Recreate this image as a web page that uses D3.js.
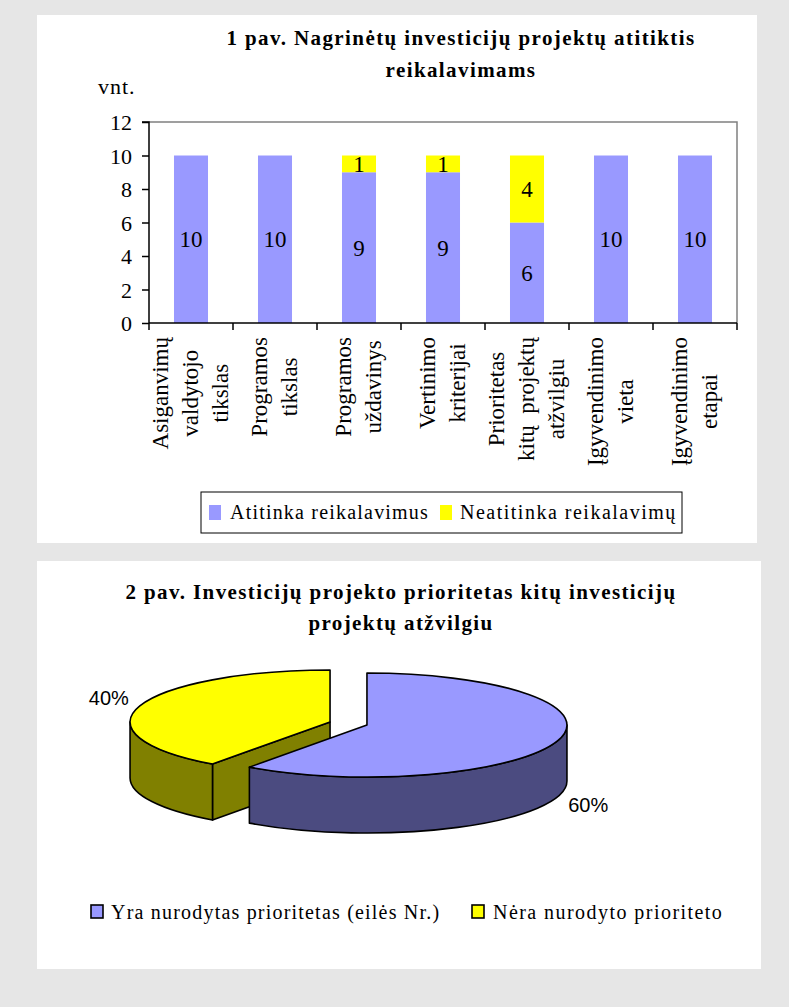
<!DOCTYPE html>
<html><head><meta charset="utf-8">
<script src="https://cdn.jsdelivr.net/npm/d3@7"></script>
<style>html,body{margin:0;padding:0;background:#e6e6e6;} svg{display:block;}</style>
</head><body>
<svg id="c" width="789" height="1007"></svg>
<script>
// ---------- data ----------
const categories = ["Asiganvimų valdytojo tikslas","Programos tikslas","Programos uždavinys","Vertinimo kriterijai","Prioritetas kitų projektų atžvilgiu","Įgyvendinimo vieta","Įgyvendinimo etapai"];
const categoryLines = [["Asiganvimų","valdytojo","tikslas"],["Programos","tikslas"],["Programos","uždavinys"],["Vertinimo","kriterijai"],["Prioritetas","kitų  projektų","atžvilgiu"],["Įgyvendinimo","vieta"],["Įgyvendinimo","etapai"]];
const seriesNames = ["Atitinka reikalavimus","Neatitinka reikalavimų"];
const atitinka = [10,10,9,9,6,10,10];
const neatitinka = [0,0,1,1,4,0,0];
const yTicks = [0,2,4,6,8,10,12];
const barTitle = ["1 pav. Nagrinėtų investicijų projektų atitiktis","reikalavimams"];
const yUnit = "vnt.";

const pieNames = ["Yra nurodytas prioritetas (eilės Nr.)","Nėra nurodyto prioriteto"];
const pieValues = [60,40];
const pieValueLabels = ["60%","40%"];
const pieTitle = ["2 pav. Investicijų projekto prioritetas kitų investicijų","projektų atžvilgiu"];

// ---------- styles ----------
const SERIF = "'Liberation Serif','Times New Roman',serif";
const SANS = "'Liberation Sans',Arial,sans-serif";
const barColors = ["#9999ff","#ffff00"];
const pieTop = ["#9999ff","#ffff00"];
const pieSide = ["#4b4b80","#808000"];

const svg = d3.select("#c");

// panels
svg.append("rect").attr("x",37).attr("y",15).attr("width",720).attr("height",528).attr("fill","#fff");
svg.append("rect").attr("x",37).attr("y",561).attr("width",724).attr("height",408).attr("fill","#fff");

// ---------- bar chart ----------
const L=149, R=737, T=122, B=323;
const x = d3.scaleBand().domain(categories).range([L,R]).paddingInner(0.595).paddingOuter(0.2975);
const y = d3.scaleLinear().domain([0,12]).range([B,T]);

const rows = categories.map((c,i)=>({cat:c, a:atitinka[i], n:neatitinka[i]}));
const stack = d3.stack().keys(["a","n"])(rows);

// title
svg.append("g").selectAll("text").data(barTitle).join("text")
  .attr("x",461).attr("y",(d,i)=>45+i*32).attr("text-anchor","middle")
  .attr("font-family",SERIF).attr("font-weight","bold").attr("font-size",21)
  .attr("letter-spacing",1.4).text(d=>d);

svg.append("text").attr("x",98).attr("y",94).attr("font-family",SERIF).attr("font-size",22)
  .attr("letter-spacing",1).text(yUnit);

// plot frame (top/right gray)
svg.append("path").attr("d",`M${L},${T}H${R}V${B}`).attr("fill","none").attr("stroke","#808080").attr("stroke-width",1.5);

// bars
const bars = svg.append("g");
stack.forEach((s,si)=>{
  bars.selectAll(null).data(s).join("rect")
    .attr("x",d=>x(d.data.cat)).attr("width",x.bandwidth())
    .attr("y",d=>y(d[1])).attr("height",d=>y(d[0])-y(d[1]))
    .attr("fill",barColors[si]);
  bars.selectAll(null).data(s.filter(d=>d[1]-d[0]>0)).join("text")
    .attr("x",d=>x(d.data.cat)+x.bandwidth()/2)
    .attr("y",d=>y((d[0]+d[1])/2)+8)
    .attr("text-anchor","middle").attr("font-family",SERIF).attr("font-size",23)
    .text(d=>d[1]-d[0]);
});

// y axis
const yAxis = d3.axisLeft(y).tickValues(yTicks).tickSize(7).tickPadding(10).tickFormat(d3.format("d"));
const gy = svg.append("g").attr("transform",`translate(${L},0)`).call(yAxis);
gy.select(".domain").attr("stroke","#000").attr("stroke-width",1.5).attr("d",`M-7,${T}H0V${B}`);
gy.selectAll(".tick line").attr("stroke","#000").attr("stroke-width",1.5);
gy.selectAll(".tick text").attr("font-family",SERIF).attr("font-size",22).attr("fill","#000").attr("dy","0.35em");

// x axis
const bounds = d3.range(categories.length+1).map(i=>L + i*x.step());
const gx = svg.append("g");
gx.append("line").attr("x1",L).attr("x2",R).attr("y1",B).attr("y2",B).attr("stroke","#000").attr("stroke-width",1.5);
gx.selectAll("line.t").data(bounds).join("line").attr("class","t")
  .attr("x1",d=>d).attr("x2",d=>d).attr("y1",B).attr("y2",B+7).attr("stroke","#000").attr("stroke-width",1.5);

// category labels (rotated, multiline, top-aligned block)
const labG = svg.append("g");
categories.forEach((c,i)=>{
  const lines = categoryLines[i];
  const cx = x(c)+x.bandwidth()/2;
  const g = labG.append("g");
  const texts = g.selectAll("text").data(lines).join("text")
    .attr("font-family",SERIF).attr("font-size",23).attr("text-anchor","middle")
    .attr("xml:space","preserve").text(d=>d);
  let maxW = 0;
  texts.each(function(){ maxW = Math.max(maxW, this.getComputedTextLength()); });
  const n = lines.length;
  texts.attr("transform",(d,j)=>`translate(${cx + (j-(n-1)/2)*30 + 7},${B+14+maxW/2}) rotate(-90)`);
});

// legend 1
const lg = svg.append("g");
lg.append("rect").attr("x",201).attr("y",492).attr("width",481).attr("height",41).attr("fill","#fff").attr("stroke","#000").attr("stroke-width",1);
const lgX = [[209,230],[440,460]];
const lgSpacing = [1.2,1.5];
seriesNames.forEach((s,i)=>{
  lg.append("rect").attr("x",lgX[i][0]).attr("y",505).attr("width",12).attr("height",15).attr("fill",barColors[i]);
  lg.append("text").attr("x",lgX[i][1]).attr("y",519).attr("font-family",SERIF).attr("font-size",20)
    .attr("letter-spacing",lgSpacing[i]).text(s);
});

// ---------- 3D pie ----------
svg.append("g").selectAll("text").data(pieTitle).join("text")
  .attr("x",401).attr("y",(d,i)=>599+i*31).attr("text-anchor","middle")
  .attr("font-family",SERIF).attr("font-weight","bold").attr("font-size",21)
  .attr("letter-spacing",1.4).text(d=>d);

const pc = {x:348.5, y:723.5}, rx=200, ry=52, depth=56, explode=0.097;
const arcs = d3.pie().sort(null).value(d=>d)(pieValues);
const P = (c,t)=>[c.x + rx*Math.sin(t), c.y - ry*Math.cos(t)];
const f = p=>p[0].toFixed(2)+","+p[1].toFixed(2);
const down = p=>[p[0],p[1]+depth];

const slices = arcs.map((a,i)=>{
  const mid=(a.startAngle+a.endAngle)/2;
  const c={x:pc.x+rx*explode*Math.sin(mid), y:pc.y-ry*explode*Math.cos(mid)};
  return {i,a,mid,c};
}).sort((p,q)=>Math.cos(q.mid)-Math.cos(p.mid));

const pg = svg.append("g").attr("stroke","#000").attr("stroke-width",1.6).attr("stroke-linejoin","round");
slices.forEach(s=>{
  const {a,c,i} = s;
  const a0=a.startAngle, a1=a.endAngle;
  if (Math.sin(a0) < -1e-6) {
    const p=P(c,a0);
    pg.append("path").attr("fill",pieSide[i]).attr("d",`M${f([c.x,c.y])}L${f(p)}L${f(down(p))}L${f([c.x,c.y+depth])}Z`);
  }
  if (Math.sin(a1) > 1e-6) {
    const p=P(c,a1);
    pg.append("path").attr("fill",pieSide[i]).attr("d",`M${f([c.x,c.y])}L${f(p)}L${f(down(p))}L${f([c.x,c.y+depth])}Z`);
  }
  const s0=Math.max(a0,Math.PI/2), s1=Math.min(a1,3*Math.PI/2);
  if (s1>s0) {
    const p0=P(c,s0), p1=P(c,s1);
    const lf=(s1-s0)>Math.PI?1:0;
    pg.append("path").attr("fill",pieSide[i])
      .attr("d",`M${f(p0)}A${rx},${ry} 0 ${lf} 1 ${f(p1)}L${f(down(p1))}A${rx},${ry} 0 ${lf} 0 ${f(down(p0))}Z`);
  }
  const q0=P(c,a0), q1=P(c,a1);
  const lf=(a1-a0)>Math.PI?1:0;
  pg.append("path").attr("fill",pieTop[i])
    .attr("d",`M${f([c.x,c.y])}L${f(q0)}A${rx},${ry} 0 ${lf} 1 ${f(q1)}Z`);
});

// value labels
arcs.forEach((a,i)=>{
  const mid=(a.startAngle+a.endAngle)/2;
  const front = Math.cos(mid)<0;
  const lx = pc.x + rx*1.26*Math.sin(mid);
  const ly = pc.y - ry*1.6*Math.cos(mid) + (front?depth:0);
  svg.append("text").attr("x",lx).attr("y",ly).attr("dy","0.35em").attr("text-anchor","middle")
    .attr("font-family",SANS).attr("font-size",20).text(pieValueLabels[i]);
});

// legend 2
const lg2X = [[91,111],[472,493]];
const lg2Spacing = [1.2,1.45];
pieNames.forEach((s,i)=>{
  svg.append("rect").attr("x",lg2X[i][0]).attr("y",905).attr("width",12).attr("height",13)
    .attr("fill",pieTop[i]).attr("stroke","#000").attr("stroke-width",1.6);
  svg.append("text").attr("x",lg2X[i][1]).attr("y",919).attr("font-family",SERIF).attr("font-size",20)
    .attr("letter-spacing",lg2Spacing[i]).text(s);
});
</script>
</body></html>
